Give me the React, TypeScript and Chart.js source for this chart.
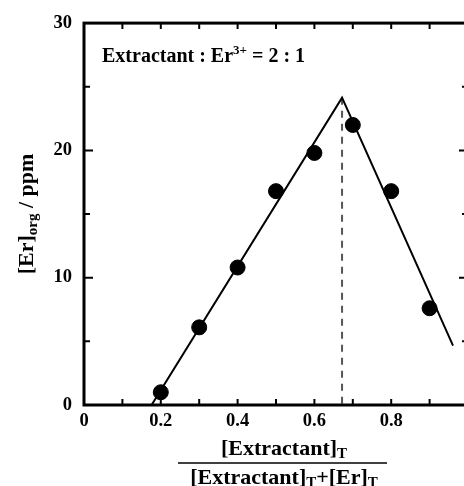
import { useEffect, useRef } from "react";
import { Chart, registerables } from "chart.js";

Chart.register(...registerables);

// ---- data ----
const moleFraction = [0.2, 0.3, 0.4, 0.5, 0.6, 0.7, 0.8, 0.9];
const erOrgPpm = [1.0, 6.1, 10.8, 16.8, 19.8, 22.0, 16.8, 7.6];
const fitLineX = [0.176, 0.672, 0.961];
const fitLineY = [0, 24.14, 4.66];
const stoichX = [0.672, 0.672];
const stoichY = [24.14, 0];
const xTickValues = [0, 0.2, 0.4, 0.6, 0.8, 1];
const yTickValues = [0, 10, 20, 30];
const xMinorStep = 0.1;
const yMinorStep = 5;

const SERIF = '"Liberation Serif", "Times New Roman", serif';

type Part = { text: string; size: number; dy: number };

function richWidth(ctx: CanvasRenderingContext2D, parts: Part[]) {
  let w = 0;
  for (const p of parts) {
    ctx.font = `bold ${p.size}px ${SERIF}`;
    w += ctx.measureText(p.text).width;
  }
  return w;
}

function drawRich(
  ctx: CanvasRenderingContext2D,
  parts: Part[],
  x: number,
  y: number,
  align: "left" | "center"
) {
  let cx = align === "center" ? x - richWidth(ctx, parts) / 2 : x;
  ctx.textAlign = "left";
  ctx.textBaseline = "alphabetic";
  for (const p of parts) {
    ctx.font = `bold ${p.size}px ${SERIF}`;
    ctx.fillText(p.text, cx, y + p.dy);
    cx += ctx.measureText(p.text).width;
  }
}

const framePlugin = {
  id: "frame",
  afterDraw(chart: any) {
    const { ctx, chartArea, scales } = chart;
    const { left, right, top, bottom } = chartArea;
    const xs = scales.x;
    const ys = scales.y;
    ctx.save();
    ctx.strokeStyle = "#000";
    ctx.fillStyle = "#000";
    // ticks
    ctx.lineWidth = 2;
    for (let i = 0; i <= 10; i++) {
      const px = xs.getPixelForValue(i * xMinorStep);
      ctx.beginPath();
      ctx.moveTo(px, bottom);
      ctx.lineTo(px, bottom - 6);
      ctx.moveTo(px, top);
      ctx.lineTo(px, top + 6);
      ctx.stroke();
    }
    for (let v = 0; v <= 30; v += yMinorStep) {
      const py = ys.getPixelForValue(v);
      const len = v % 10 === 0 ? 9 : 6;
      ctx.beginPath();
      ctx.moveTo(left, py);
      ctx.lineTo(left + len, py);
      ctx.moveTo(right, py);
      ctx.lineTo(right - len, py);
      ctx.stroke();
    }
    // frame
    ctx.lineWidth = 3;
    ctx.strokeRect(left, top, right - left, bottom - top);

    // annotation
    drawRich(
      ctx,
      [
        { text: "Extractant : Er", size: 20, dy: 0 },
        { text: "3+", size: 13, dy: -8 },
        { text: " = 2 : 1", size: 20, dy: 0 },
      ],
      102,
      62,
      "left"
    );

    // y title
    ctx.save();
    ctx.translate(33, 214);
    ctx.rotate(-Math.PI / 2);
    drawRich(
      ctx,
      [
        { text: "[Er]", size: 22, dy: 0 },
        { text: "org", size: 15, dy: 4 },
        { text: " / ppm", size: 22, dy: 0 },
      ],
      0,
      0,
      "center"
    );
    ctx.restore();

    // x title (fraction)
    const cx = 284;
    drawRich(
      ctx,
      [
        { text: "[Extractant]", size: 22, dy: 0 },
        { text: "T", size: 15, dy: 3 },
      ],
      cx,
      455,
      "center"
    );
    ctx.lineWidth = 1.5;
    ctx.beginPath();
    ctx.moveTo(178, 463);
    ctx.lineTo(387, 463);
    ctx.stroke();
    drawRich(
      ctx,
      [
        { text: "[Extractant]", size: 22, dy: 0 },
        { text: "T", size: 15, dy: 3 },
        { text: "+[Er]", size: 22, dy: 0 },
        { text: "T", size: 15, dy: 3 },
      ],
      cx,
      484,
      "center"
    );
    ctx.restore();
  },
};

export default function App() {
  const canvasRef = useRef<HTMLCanvasElement | null>(null);

  useEffect(() => {
    const canvas = canvasRef.current;
    if (!canvas) return;
    const chart = new Chart(canvas, {
      type: "scatter",
      data: {
        datasets: [
          {
            label: "data",
            data: moleFraction.map((x, i) => ({ x, y: erOrgPpm[i] })),
            backgroundColor: "#000",
            borderColor: "#000",
            pointRadius: 7.5,
            pointHoverRadius: 7.5,
            showLine: false,
          },
          {
            label: "fit",
            data: fitLineX.map((x, i) => ({ x, y: fitLineY[i] })),
            borderColor: "#000",
            borderWidth: 2,
            pointRadius: 0,
            showLine: true,
            tension: 0,
          },
          {
            label: "stoich",
            data: stoichX.map((x, i) => ({ x, y: stoichY[i] })),
            borderColor: "#555",
            borderWidth: 2,
            borderDash: [7, 6],
            pointRadius: 0,
            showLine: true,
          },
        ],
      },
      options: {
        responsive: false,
        animation: false,
        devicePixelRatio: 1,
        layout: { padding: { top: 19, right: 12, left: 0, bottom: 0 } },
        plugins: {
          legend: { display: false },
          tooltip: { enabled: false },
        },
        scales: {
          x: {
            type: "linear",
            min: 0,
            max: 1,
            grid: { display: false, drawTicks: false },
            border: { display: false },
            afterBuildTicks: (s: any) => {
              s.ticks = xTickValues.map((v) => ({ value: v }));
            },
            afterFit: (s: any) => {
              s.height = 81;
            },
            ticks: {
              autoSkip: false,
              maxRotation: 0,
              padding: 5,
              color: "#000",
              font: { family: SERIF, size: 18.5, weight: "bold" },
              callback: (v: any) =>
                v === 0 ? "0" : v === 1 ? "1" : Number(v).toFixed(1),
            },
          },
          y: {
            type: "linear",
            min: 0,
            max: 30,
            grid: { display: false, drawTicks: false },
            border: { display: false },
            afterBuildTicks: (s: any) => {
              s.ticks = yTickValues.map((v) => ({ value: v }));
            },
            afterFit: (s: any) => {
              s.width = 84;
            },
            ticks: {
              autoSkip: false,
              padding: 12,
              color: "#000",
              font: { family: SERIF, size: 18.5, weight: "bold" },
              callback: (v: any) => String(v),
            },
          },
        },
      },
      plugins: [framePlugin],
    });
    return () => chart.destroy();
  }, []);

  return (
    <div
      style={{
        position: "fixed",
        left: 0,
        top: 0,
        width: 480,
        height: 486,
        background: "#fff",
        overflow: "hidden",
      }}
    >
      <canvas ref={canvasRef} width={480} height={486} />
    </div>
  );
}
